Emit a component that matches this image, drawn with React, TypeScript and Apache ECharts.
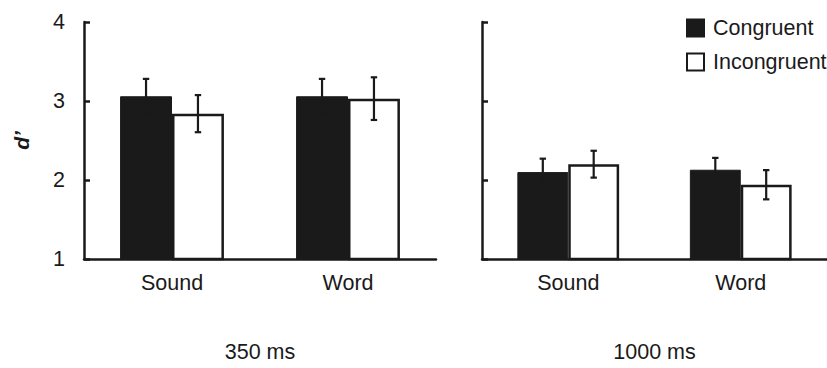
import React, { useEffect, useRef } from "react";
import * as echarts from "echarts";

const categories = ["Sound", "Word"];
const yTicks = [1, 2, 3, 4];
const panelNames = ["350 ms", "1000 ms"];
const seriesNames = ["Congruent", "Incongruent"];

const congruent350 = [3.06, 3.06];
const incongruent350 = [2.84, 3.03];
const congruentErr350 = [0.22, 0.22];
const incongruentErr350 = [0.235, 0.27];

const congruent1000 = [2.1, 2.13];
const incongruent1000 = [2.2, 1.94];
const congruentErr1000 = [0.17, 0.15];
const incongruentErr1000 = [0.17, 0.185];

const INK = "#1a1a1a";
const FONT = "'Liberation Sans', Arial, sans-serif";
const FS = 21.5;
const BAR_FRAC = 0.295;

function errSeries(name: string, vals: number[], errs: number[], axis: number, side: number) {
  return {
    type: "custom",
    name: name + " err",
    xAxisIndex: axis,
    yAxisIndex: axis,
    z: 10,
    silent: true,
    data: vals.map((v, i) => [i, v, errs[i]]),
    renderItem: (params: any, api: any) => {
      const ci = api.value(0);
      const v = api.value(1);
      const e = api.value(2);
      const band = api.size([1, 0])[0];
      const off = side * band * BAR_FRAC * 0.5;
      const top = api.coord([ci, v + e]);
      const bot = api.coord([ci, v - e]);
      const x = top[0] + off;
      const cap = 3.2;
      const style = { stroke: INK, lineWidth: 2.2 };
      return {
        type: "group",
        children: [
          { type: "line", shape: { x1: x, y1: top[1], x2: x, y2: bot[1] }, style },
          { type: "line", shape: { x1: x - cap, y1: top[1], x2: x + cap, y2: top[1] }, style },
          { type: "line", shape: { x1: x - cap, y1: bot[1], x2: x + cap, y2: bot[1] }, style },
        ],
      };
    },
  };
}

export default function App() {
  const ref = useRef<HTMLDivElement>(null);
  useEffect(() => {
    if (!ref.current) return;
    const chart = echarts.init(ref.current, null, { renderer: "svg" });
    const grids = [
      { left: 84, top: 22, width: 352, height: 245 },
      { left: 482, top: 22, width: 352, height: 245 },
    ];
    const xAxes = grids.map((_, i) => ({
      type: "category",
      gridIndex: i,
      data: categories,
      axisLine: { show: true, lineStyle: { color: INK, width: 2.5 } },
      axisTick: { show: false },
      axisLabel: { fontSize: FS, color: INK, fontFamily: FONT, margin: 13 },
      name: panelNames[i],
      nameLocation: "middle",
      nameGap: 82,
      nameTextStyle: { fontSize: FS, color: INK, fontFamily: FONT },
    }));
    const yAxes = grids.map((_, i) => ({
      type: "value",
      gridIndex: i,
      min: yTicks[0],
      max: yTicks[yTicks.length - 1],
      interval: 1,
      splitLine: { show: false },
      axisLine: { show: true, lineStyle: { color: INK, width: 2.5 } },
      axisTick: { show: true, inside: true, length: 6, lineStyle: { color: INK, width: 2.5 } },
      axisLabel: { show: i === 0, fontSize: FS, color: INK, fontFamily: FONT, margin: 19 },
      name: i === 0 ? "d\u2019" : "",
      nameLocation: "middle",
      nameGap: 52,
      nameTextStyle: { fontSize: 21, color: INK, fontFamily: FONT, fontStyle: "italic", fontWeight: "bold" },
    }));
    const barBase = (name: string, data: number[], axis: number, white: boolean) => ({
      type: "bar",
      name,
      xAxisIndex: axis,
      yAxisIndex: axis,
      data,
      barWidth: (BAR_FRAC * 100).toFixed(1) + "%",
      barGap: "0%",
      itemStyle: white
        ? { color: "#ffffff", borderColor: INK, borderWidth: 2.5 }
        : { color: INK, borderColor: INK, borderWidth: 1 },
    });
    chart.setOption({
      animation: false,
      textStyle: { fontFamily: FONT },
      grid: grids,
      xAxis: xAxes,
      yAxis: yAxes,
      legend: {
        data: seriesNames,
        orient: "vertical",
        left: 686,
        top: 17,
        padding: 0,
        itemWidth: 17,
        itemHeight: 17,
        itemGap: 12,
        icon: "rect",
        textStyle: { fontSize: FS, color: INK, fontFamily: FONT, padding: [0, 0, 0, 4] },
      },
      series: [
        barBase(seriesNames[0], congruent350, 0, false),
        barBase(seriesNames[1], incongruent350, 0, true),
        barBase(seriesNames[0], congruent1000, 1, false),
        barBase(seriesNames[1], incongruent1000, 1, true),
        errSeries(seriesNames[0], congruent350, congruentErr350, 0, -1),
        errSeries(seriesNames[1], incongruent350, incongruentErr350, 0, 1),
        errSeries(seriesNames[0], congruent1000, congruentErr1000, 1, -1),
        errSeries(seriesNames[1], incongruent1000, incongruentErr1000, 1, 1),
      ],
    });
    return () => chart.dispose();
  }, []);
  return (
    <div
      ref={ref}
      style={{ position: "fixed", left: 0, top: 0, width: 827, height: 368, background: "#ffffff" }}
    />
  );
}
